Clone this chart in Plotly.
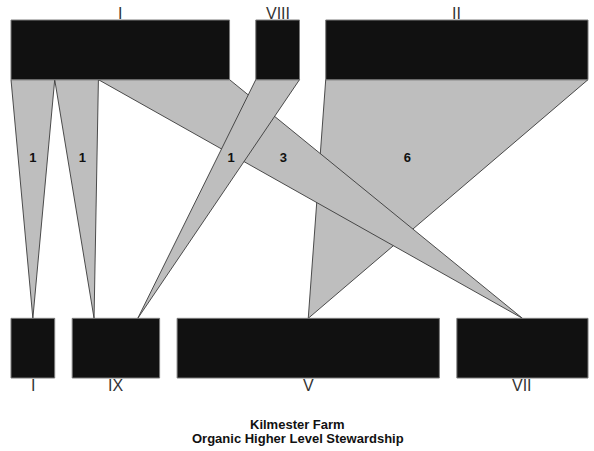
"""Parallel-sets style flow chart: Kilmester Farm, Organic Higher Level Stewardship."""
import plotly.graph_objects as go

# ------------------------------------------------------------------ #
# Data                                                                #
# ------------------------------------------------------------------ #
top_cats = ["I", "VIII", "II"]
bottom_cats = ["I", "IX", "V", "VII"]

# flows, listed in drawing order
flow_from = ["II", "I", "I", "I", "VIII"]
flow_to = ["V", "I", "IX", "VII", "IX"]
flow_n = [6, 1, 1, 3, 1]

title_lines = ["Kilmester Farm", "Organic Higher Level Stewardship"]

# ------------------------------------------------------------------ #
# Layout helpers                                                      #
# ------------------------------------------------------------------ #
BOX_FILL = "#111111"
BOX_LINE = "#7a7a7a"
RIBBON_FILL = "#bebebe"
RIBBON_LINE = "#3a3a3a"
FONT = "Liberation Sans, Arial, sans-serif"

total = sum(flow_n)
gap_total = 0.1 * total
Y_TOP_HI, Y_TOP_LO = 6.0, 5.0
Y_BOT_HI, Y_BOT_LO = 1.0, 0.0


def box_positions(cats, key_of, order_of):
    """Return {cat: (x0, x1)} and {flow index: (x0, x1)} for one level."""
    gap = gap_total / (len(cats) - 1)
    boxes, segs = {}, {}
    cursor = 0.0
    for c in cats:
        idx = [i for i in range(len(flow_n)) if key_of[i] == c]
        idx.sort(key=lambda i: order_of(i))
        start = cursor
        for i in idx:
            segs[i] = (cursor, cursor + flow_n[i])
            cursor += flow_n[i]
        boxes[c] = (start, cursor)
        cursor += gap
    return boxes, segs


top_boxes, top_segs = box_positions(
    top_cats, flow_from, lambda i: bottom_cats.index(flow_to[i])
)
bot_boxes, bot_segs = box_positions(
    bottom_cats, flow_to, lambda i: top_cats.index(flow_from[i])
)

fig = go.Figure()

# ribbons: full width at the top, tapering to the segment centre below
lab_x, lab_y, lab_t = [], [], []
for i, n in enumerate(flow_n):
    tx0, tx1 = top_segs[i]
    bx = sum(bot_segs[i]) / 2
    fig.add_trace(
        go.Scatter(
            x=[tx0, tx1, bx, tx0],
            y=[Y_TOP_LO, Y_TOP_LO, Y_BOT_HI, Y_TOP_LO],
            mode="lines",
            fill="toself",
            fillcolor=RIBBON_FILL,
            line=dict(color=RIBBON_LINE, width=0.9),
            hoverinfo="skip",
            showlegend=False,
        )
    )
    tc = (tx0 + tx1) / 2
    lab_x.append(tc + (bx - tc) / 3)
    lab_y.append(Y_TOP_LO - (Y_TOP_LO - Y_BOT_HI) / 3)
    lab_t.append(str(n))

fig.add_trace(
    go.Scatter(
        x=lab_x,
        y=lab_y,
        mode="text",
        text=[f"<b>{t}</b>" for t in lab_t],
        textfont=dict(family=FONT, size=13, color="#111111"),
        hoverinfo="skip",
        showlegend=False,
    )
)

# category boxes
for boxes, (y0, y1) in ((top_boxes, (Y_TOP_LO, Y_TOP_HI)), (bot_boxes, (Y_BOT_LO, Y_BOT_HI))):
    for c, (x0, x1) in boxes.items():
        fig.add_trace(
            go.Scatter(
                x=[x0, x1, x1, x0, x0],
                y=[y0, y0, y1, y1, y0],
                mode="lines",
                fill="toself",
                fillcolor=BOX_FILL,
                line=dict(color=BOX_LINE, width=1),
                hoverinfo="skip",
                showlegend=False,
            )
        )

annotations = []
for c, (x0, x1) in top_boxes.items():
    annotations.append(
        dict(
            x=(x0 + x1) / 2, y=Y_TOP_HI, xref="x", yref="y",
            text=c, showarrow=False, yanchor="bottom", yshift=-4,
            font=dict(family=FONT, size=16, color="#333333"),
        )
    )
for c, (x0, x1) in bot_boxes.items():
    annotations.append(
        dict(
            x=(x0 + x1) / 2, y=Y_BOT_LO, xref="x", yref="y",
            text=c, showarrow=False, yanchor="top", yshift=3,
            font=dict(family=FONT, size=16, color="#333333"),
        )
    )
for k, line in enumerate(title_lines):
    annotations.append(
        dict(
            x=0.5, y=0, xref="paper", yref="paper",
            text=f"<b>{line}</b>", showarrow=False, yanchor="top",
            xshift=-2, yshift=-36 - 14 * k,
            font=dict(family=FONT, size=13, color="#111111"),
        )
    )

pad_x = 1 / 43.7
pad_y = 1 / 59.7
fig.update_layout(
    width=594,
    height=451,
    margin=dict(l=10, r=5, t=19, b=72),
    paper_bgcolor="white",
    plot_bgcolor="white",
    xaxis=dict(range=[-pad_x, total + gap_total + pad_x], visible=False, fixedrange=True),
    yaxis=dict(range=[-pad_y, Y_TOP_HI + pad_y], visible=False, fixedrange=True),
    annotations=annotations,
    showlegend=False,
)

# drop the browser's default 8px body margin so the figure fills the window
fig.write_html(
    "out.html",
    config={"displayModeBar": False},
    post_script="document.body.style.margin = '0';",
)
